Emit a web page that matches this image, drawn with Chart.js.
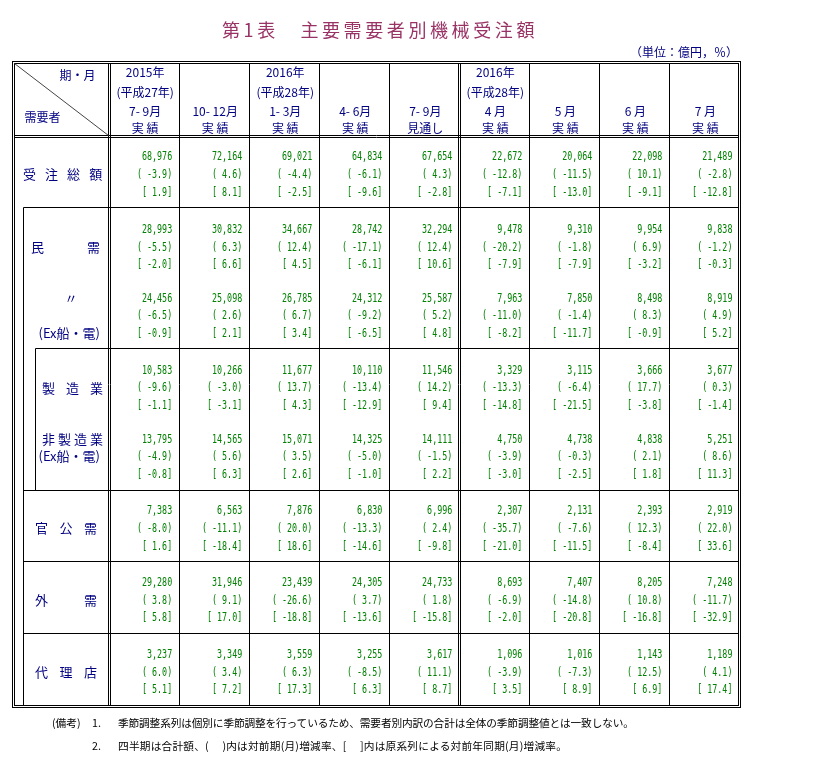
<!DOCTYPE html>
<html>
<head>
<meta charset="utf-8">
<script src="https://cdn.jsdelivr.net/npm/chart.js@4.4.1/dist/chart.umd.min.js"></script>
<style>
  body { margin: 0; background: #fff; font-family: "Noto Sans CJK JP", sans-serif; }
  #wrap { position: relative; width: 828px; height: 762px; }
  #tbl { position: absolute; left: 0; top: 0; }
  .title { position: absolute; top: 17px; left: 0; width: 760px; text-align: center;
           font-size: 18px; letter-spacing: 3.6px; color: #993366; line-height: 24px; }
  .unit { position: absolute; top: 43px; right: 90px; font-size: 12px; color: #000080; line-height: 18px; }
  .note { position: absolute; font-size: 10.7px; line-height: 16px; color: #000; white-space: nowrap; }
</style>
</head>
<body>
<div id="wrap">
  <canvas id="tbl" width="828" height="762"></canvas>
  <div class="title">第1表　主要需要者別機械受注額</div>
  <div class="unit">（単位：億円，％）</div>
  <div class="note" style="left:52px;top:715px">(備考)</div>
  <div class="note" style="left:92px;top:715px">1.</div>
  <div class="note" style="left:118px;top:715px;letter-spacing:-0.15px">季節調整系列は個別に季節調整を行っているため、需要者別内訳の合計は全体の季節調整値とは一致しない。</div>
  <div class="note" style="left:92px;top:738px">2.</div>
  <div class="note" style="left:118px;top:738px;letter-spacing:0.2px">四半期は合計額、(　 )内は対前期(月)増減率、[　 ]内は原系列による対前年同期(月)増減率。</div>
</div>
<script>
// column headers
const yearLabels = ["2015年", "", "2016年", "", "", "2016年", "", "", ""];
const eraLabels = ["(平成27年)", "", "(平成28年)", "", "", "(平成28年)", "", "", ""];
const periodLabels = ["7- 9月", "10- 12月", "1- 3月", "4- 6月", "7- 9月", "4 月", "5 月", "6 月", "7 月"];
const statusLabels = ["実 績", "実 績", "実 績", "実 績", "見通し", "実 績", "実 績", "実 績", "実 績"];

// 受注総額
const totalAmt = [68976, 72164, 69021, 64834, 67654, 22672, 20064, 22098, 21489];
const totalMoM = [-3.9, 4.6, -4.4, -6.1, 4.3, -12.8, -11.5, 10.1, -2.8];
const totalYoY = [1.9, 8.1, -2.5, -9.6, -2.8, -7.1, -13.0, -9.1, -12.8];
// 民需
const privAmt = [28993, 30832, 34667, 28742, 32294, 9478, 9310, 9954, 9838];
const privMoM = [-5.5, 6.3, 12.4, -17.1, 12.4, -20.2, -1.8, 6.9, -1.2];
const privYoY = [-2.0, 6.6, 4.5, -6.1, 10.6, -7.9, -7.9, -3.2, -0.3];
// 民需 (Ex船・電)
const privExAmt = [24456, 25098, 26785, 24312, 25587, 7963, 7850, 8498, 8919];
const privExMoM = [-6.5, 2.6, 6.7, -9.2, 5.2, -11.0, -1.4, 8.3, 4.9];
const privExYoY = [-0.9, 2.1, 3.4, -6.5, 4.8, -8.2, -11.7, -0.9, 5.2];
// 製造業
const mfgAmt = [10583, 10266, 11677, 10110, 11546, 3329, 3115, 3666, 3677];
const mfgMoM = [-9.6, -3.0, 13.7, -13.4, 14.2, -13.3, -6.4, 17.7, 0.3];
const mfgYoY = [-1.1, -3.1, 4.3, -12.9, 9.4, -14.8, -21.5, -3.8, -1.4];
// 非製造業 (Ex船・電)
const nonMfgAmt = [13795, 14565, 15071, 14325, 14111, 4750, 4738, 4838, 5251];
const nonMfgMoM = [-4.9, 5.6, 3.5, -5.0, -1.5, -3.9, -0.3, 2.1, 8.6];
const nonMfgYoY = [-0.8, 6.3, 2.6, -1.0, 2.2, -3.0, -2.5, 1.8, 11.3];
// 官公需
const govAmt = [7383, 6563, 7876, 6830, 6996, 2307, 2131, 2393, 2919];
const govMoM = [-8.0, -11.1, 20.0, -13.3, 2.4, -35.7, -7.6, 12.3, 22.0];
const govYoY = [1.6, -18.4, 18.6, -14.6, -9.8, -21.0, -11.5, -8.4, 33.6];
// 外需
const extAmt = [29280, 31946, 23439, 24305, 24733, 8693, 7407, 8205, 7248];
const extMoM = [3.8, 9.1, -26.6, 3.7, 1.8, -6.9, -14.8, 10.8, -11.7];
const extYoY = [5.8, 17.0, -18.8, -13.6, -15.8, -2.0, -20.8, -16.8, -32.9];
// 代理店
const agentAmt = [3237, 3349, 3559, 3255, 3617, 1096, 1016, 1143, 1189];
const agentMoM = [6.0, 3.4, 6.3, -8.5, 11.1, -3.9, -7.3, 12.5, 4.1];
const agentYoY = [5.1, 7.2, 17.3, 6.3, 8.7, 3.5, 8.9, 6.9, 17.4];

const NAVY = "#000080";
const GREEN = "#008000";
const STEP = 0.99; // one text line in row units

// row layout: section top (in row units) and where each group of 3 lines starts
const rowTops = [0, 4.01, 11.93, 19.85, 23.89, 27.93];
const groups = [
  { amt: totalAmt, mom: totalMoM, yoy: totalYoY, y: rowTops[0] + 1.13 },
  { amt: privAmt, mom: privMoM, yoy: privYoY, y: rowTops[1] + 1.2 },
  { amt: privExAmt, mom: privExMoM, yoy: privExYoY, y: rowTops[1] + 5.05 },
  { amt: mfgAmt, mom: mfgMoM, yoy: mfgYoY, y: rowTops[2] + 1.18 },
  { amt: nonMfgAmt, mom: nonMfgMoM, yoy: nonMfgYoY, y: rowTops[2] + 5.05 },
  { amt: govAmt, mom: govMoM, yoy: govYoY, y: rowTops[3] + 1.15 },
  { amt: extAmt, mom: extMoM, yoy: extYoY, y: rowTops[4] + 1.15 },
  { amt: agentAmt, mom: agentMoM, yoy: agentYoY, y: rowTops[5] + 1.15 },
];

const fmtAmt = (v) => v.toLocaleString("en-US");
const fmtMoM = (v) => "( " + v.toFixed(1) + ")";
const fmtYoY = (v) => "[ " + v.toFixed(1) + "]";

const datasets = [];
groups.forEach((g) => {
  [[g.amt, fmtAmt], [g.mom, fmtMoM], [g.yoy, fmtYoY]].forEach(([arr, fmt], k) => {
    datasets.push({
      data: arr.map((v, i) => ({ x: i + 0.5, y: g.y + k * STEP })),
      cellText: arr.map(fmt),
      pointRadius: 0,
      showLine: false,
    });
  });
});

const tablePlugin = {
  id: "table",
  afterDatasetsDraw(chart) {
    const { ctx, chartArea: a, scales } = chart;
    const X = (v) => scales.x.getPixelForValue(v);
    const Y = (v) => scales.y.getPixelForValue(v);
    const c = (v) => Math.round(v - 0.5) + 0.5;
    const line = (x1, y1, x2, y2) => {
      ctx.beginPath();
      ctx.moveTo(x1, y1);
      ctx.lineTo(x2, y2);
      ctx.stroke();
    };
    ctx.save();
    ctx.strokeStyle = "#000";
    ctx.lineWidth = 1;

    // outer double border
    const L = c(a.left), R = c(a.right), T = c(a.top), B = c(a.bottom);
    ctx.strokeRect(L, T, R - L, B - T);
    const iL = L + 2, iR = R - 2, iT = T + 2, iB = B - 2;
    ctx.strokeRect(iL, iT, iR - iL, iB - iT);

    // column lines
    for (let i = 0; i < 9; i++) {
      const px = c(X(i));
      if (i === 0 || i === 5) {
        line(px - 1, iT, px - 1, iB);
        line(px + 1, iT, px + 1, iB);
      } else {
        line(px, iT, px, iB);
      }
    }
    // header bottom (double)
    const hy = c(Y(0));
    line(iL, hy - 1, iR, hy - 1);
    line(iL, hy + 1, iR, hy + 1);

    // row lines and nested frames
    const subL1 = c(X(-1.23)), subL2 = c(X(-1.0445));
    [1, 3, 4, 5].forEach((r) => line(subL1, c(Y(rowTops[r])), iR, c(Y(rowTops[r]))));
    line(subL2, c(Y(rowTops[2])), iR, c(Y(rowTops[2])));
    line(subL1, c(Y(rowTops[1])), subL1, iB);
    line(subL2, c(Y(rowTops[2])), subL2, c(Y(rowTops[3])));

    // diagonal in the corner cell
    ctx.strokeStyle = "#444";
    line(iL, iT, c(X(0)) - 1, hy - 1);

    // header texts
    ctx.textBaseline = "middle";
    ctx.fillStyle = NAVY;
    ctx.textAlign = "center";
    ctx.font = '12px "Noto Sans CJK JP"';
    for (let i = 0; i < 9; i++) {
      const cx = X(i + 0.5) + 1;
      ctx.fillText(yearLabels[i], cx, Y(-3.6));
      ctx.fillText(eraLabels[i], cx, Y(-2.47));
      ctx.fillText(periodLabels[i], cx, Y(-1.4));
      ctx.fillText(statusLabels[i], cx, Y(-0.45));
    }
    ctx.fillText("期・月", X(-0.452), Y(-3.43));
    ctx.fillText("需要者", X(-0.952), Y(-1.07));

    // row labels, spread between two x positions
    ctx.font = '13px "Noto Sans CJK JP"';
    const spread = (text, x1, x2, yv) => {
      const ch = [...text];
      const l = X(x1), r = X(x2), y = Y(yv);
      const w0 = ctx.measureText(ch[0]).width;
      const wn = ctx.measureText(ch[ch.length - 1]).width;
      const c0 = l + w0 / 2, cn = r - wn / 2;
      ctx.textAlign = "center";
      ch.forEach((s, k) => ctx.fillText(s, c0 + (cn - c0) * k / (ch.length - 1), y));
    };
    spread("受注総額", -1.23, -0.10, groups[0].y + STEP);
    spread("民需", -1.116, -0.131, groups[1].y + STEP);
    ctx.textAlign = "center";
    ctx.fillText("〃", X(-0.545), Y(groups[2].y));
    ctx.textAlign = "right";
    ctx.fillText("(Ex船・電)", X(-0.131), Y(groups[2].y + 2 * STEP));
    spread("製造業", -0.959, -0.088, groups[3].y + STEP);
    spread("非製造業", -0.959, -0.088, groups[4].y);
    ctx.textAlign = "right";
    ctx.fillText("(Ex船・電)", X(-0.131), Y(groups[4].y + STEP));
    spread("官公需", -1.059, -0.174, groups[5].y + STEP);
    spread("外需", -1.059, -0.174, groups[6].y + STEP);
    spread("代理店", -1.059, -0.174, groups[7].y + STEP);

    // data cells: narrow monospace figures, right aligned in each column
    ctx.fillStyle = GREEN;
    ctx.textAlign = "right";
    ctx.font = '12.5px "DejaVu Sans Mono"';
    const half = (X(1) - X(0)) / 2;
    chart.data.datasets.forEach((ds, di) => {
      chart.getDatasetMeta(di).data.forEach((pt, i) => {
        ctx.save();
        ctx.translate(pt.x + half - 7, pt.y + 0.5);
        ctx.scale(0.67, 1);
        ctx.fillText(ds.cellText[i], 0, 0);
        ctx.restore();
      });
    });
    ctx.restore();
  },
};

new Chart(document.getElementById("tbl").getContext("2d"), {
  type: "scatter",
  data: { datasets },
  options: {
    responsive: false,
    animation: false,
    events: [],
    layout: { padding: { left: 12.5, right: 87.5, top: 61.5, bottom: 54.5 } },
    scales: {
      x: { type: "linear", min: -1.38, max: 9.015, display: false },
      y: { type: "linear", min: -4.21, max: 32.06, reverse: true, display: false },
    },
    plugins: { legend: { display: false }, tooltip: { enabled: false } },
  },
  plugins: [tablePlugin],
});
</script>
</body>
</html>
